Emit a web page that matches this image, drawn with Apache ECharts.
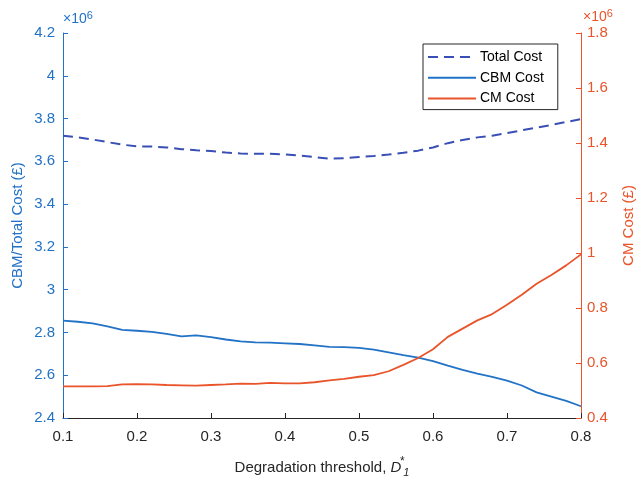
<!DOCTYPE html>
<html>
<head>
<meta charset="utf-8">
<script src="https://cdn.jsdelivr.net/npm/echarts@6/dist/echarts.min.js"></script>
<style>html,body{margin:0;padding:0;background:#fff;overflow:hidden;width:644px;height:483px;}#c{position:absolute;left:0;top:0;width:644px;height:483px;}</style>
</head>
<body>
<div id="c"></div>
<script>
// Degradation threshold D1*
const thresholds = [0.10,0.12,0.14,0.16,0.18,0.20,0.22,0.24,0.26,0.28,0.30,0.32,0.34,0.36,0.38,0.40,0.42,0.44,0.46,0.48,0.50,0.52,0.54,0.56,0.58,0.60,0.62,0.64,0.66,0.68,0.70,0.72,0.74,0.76,0.78,0.80];
// Costs in units of 10^6 £
const totalCost = [3.720,3.712,3.702,3.690,3.678,3.670,3.669,3.665,3.657,3.652,3.648,3.641,3.637,3.635,3.635,3.632,3.627,3.620,3.612,3.615,3.620,3.625,3.632,3.640,3.650,3.665,3.685,3.700,3.712,3.720,3.732,3.745,3.758,3.770,3.784,3.797];
const cbmCost = [2.855,2.850,2.842,2.828,2.812,2.808,2.803,2.793,2.782,2.786,2.778,2.767,2.758,2.754,2.752,2.749,2.746,2.740,2.733,2.731,2.728,2.720,2.707,2.694,2.682,2.666,2.645,2.625,2.607,2.592,2.575,2.552,2.520,2.500,2.480,2.455];
const cmCost = [0.515,0.515,0.515,0.516,0.522,0.523,0.522,0.520,0.519,0.518,0.520,0.522,0.525,0.524,0.528,0.526,0.526,0.530,0.537,0.542,0.550,0.556,0.570,0.593,0.618,0.650,0.695,0.725,0.755,0.778,0.812,0.848,0.888,0.920,0.955,0.995];
const seriesNames = ['Total Cost','CBM Cost','CM Cost'];

const FONT = 'Liberation Sans, Arial, Helvetica, sans-serif';
const BLUE = '#2272c6', RED = '#e9542b', DARK = '#262626', DASH = '#3a4fb5';
const fmt = v => String(parseFloat(v.toFixed(2)));
const pairs = arr => thresholds.map((x, i) => [x, arr[i]]);

const chart = echarts.init(document.getElementById('c'), null, {renderer: 'canvas', width: 644, height: 483});
chart.setOption({
  animation: false,
  backgroundColor: '#fff',
  textStyle: {fontFamily: FONT},
  grid: {left: 63, right: 55, top: 33, bottom: 62, containLabel: false},
  legend: {
    orient: 'vertical', left: 423, top: 44,
    data: seriesNames,
    backgroundColor: '#fff', borderColor: DARK, borderWidth: 1, borderRadius: 0,
    padding: [6, 14, 4, 4], itemGap: 6.8, itemWidth: 48, itemHeight: 14,
    itemStyle: {opacity: 0},
    textStyle: {fontFamily: FONT, fontSize: 14, color: '#000', padding: [0, 0, 0, -1]}
  },
  xAxis: {
    type: 'value', min: 0.1, max: 0.8, interval: 0.1,
    axisLine: {show: true, lineStyle: {color: DARK, width: 1}},
    axisTick: {show: true, inside: true, length: 5, lineStyle: {color: DARK}},
    axisLabel: {color: DARK, fontSize: 15, margin: 11, formatter: fmt},
    splitLine: {show: false},
    name: 'Degradation threshold, {it|D}{sup|*}{sub|1}',
    nameLocation: 'middle', nameGap: 38,
    nameTextStyle: {
      color: DARK, fontSize: 15, fontFamily: FONT,
      rich: {
        it: {fontSize: 15, fontStyle: 'italic', color: DARK, fontFamily: FONT},
        sup: {fontSize: 12, color: DARK, width: 0, padding: [0, 0, 12, 1], fontFamily: FONT},
        sub: {fontSize: 11, fontStyle: 'italic', color: DARK, padding: [9, 0, 0, 1], fontFamily: FONT}
      }
    }
  },
  yAxis: [
    {
      type: 'value', min: 2.4, max: 4.2, interval: 0.2, position: 'left',
      axisLine: {show: true, lineStyle: {color: BLUE, width: 1}},
      axisTick: {show: true, inside: true, length: 5, lineStyle: {color: BLUE}},
      axisLabel: {color: BLUE, fontSize: 15, margin: 8, formatter: fmt},
      splitLine: {show: false}
    },
    {
      type: 'value', min: 0.4, max: 1.8, interval: 0.2, position: 'right',
      axisLine: {show: true, lineStyle: {color: RED, width: 1}},
      axisTick: {show: true, inside: true, length: 5, lineStyle: {color: RED}},
      axisLabel: {color: RED, fontSize: 15, margin: 6, formatter: fmt},
      splitLine: {show: false}
    },
    {
      type: 'value', min: 2.4, max: 4.2, position: 'left', offset: 0,
      axisLine: {show: false}, axisTick: {show: false}, axisLabel: {show: false}, splitLine: {show: false},
      name: 'CBM/Total Cost (£)', nameLocation: 'middle', nameGap: 38, nameRotate: 90,
      nameTextStyle: {color: BLUE, fontSize: 15, fontFamily: FONT}
    },
    {
      type: 'value', min: 0.4, max: 1.8, position: 'right', offset: 0,
      axisLine: {show: false}, axisTick: {show: false}, axisLabel: {show: false}, splitLine: {show: false},
      name: 'CM Cost (£)', nameLocation: 'middle', nameGap: 40, nameRotate: 90,
      nameTextStyle: {color: RED, fontSize: 15, fontFamily: FONT}
    },
    {
      type: 'value', min: 2.4, max: 4.2, position: 'left', offset: 0,
      axisLine: {show: false}, axisTick: {show: false}, axisLabel: {show: false}, splitLine: {show: false},
      name: '×10{sup|6}', nameLocation: 'end', nameGap: 4,
      nameTextStyle: {color: BLUE, fontSize: 14, align: 'left', fontFamily: FONT,
        rich: {sup: {fontSize: 11, color: BLUE, padding: [0, 0, 8, 0], fontFamily: FONT}}}
    },
    {
      type: 'value', min: 0.4, max: 1.8, position: 'right', offset: 0,
      axisLine: {show: false}, axisTick: {show: false}, axisLabel: {show: false}, splitLine: {show: false},
      name: '×10{sup|6}', nameLocation: 'end', nameGap: 6,
      nameTextStyle: {color: RED, fontSize: 14, align: 'left', padding: [0, 0, 0, 2], fontFamily: FONT,
        rich: {sup: {fontSize: 11, color: RED, padding: [0, 0, 8, 0], fontFamily: FONT}}}
    }
  ],
  series: [
    {
      name: seriesNames[0], type: 'line', yAxisIndex: 0, data: pairs(totalCost),
      symbol: 'none', smooth: false,
      lineStyle: {color: DASH, width: 2, type: [10, 6]}, itemStyle: {color: DASH}
    },
    {
      name: seriesNames[1], type: 'line', yAxisIndex: 0, data: pairs(cbmCost),
      symbol: 'none', lineStyle: {color: BLUE, width: 1.8}, itemStyle: {color: BLUE}
    },
    {
      name: seriesNames[2], type: 'line', yAxisIndex: 1, data: pairs(cmCost),
      symbol: 'none', lineStyle: {color: RED, width: 1.8}, itemStyle: {color: RED}
    }
  ]
});
</script>
</body>
</html>
